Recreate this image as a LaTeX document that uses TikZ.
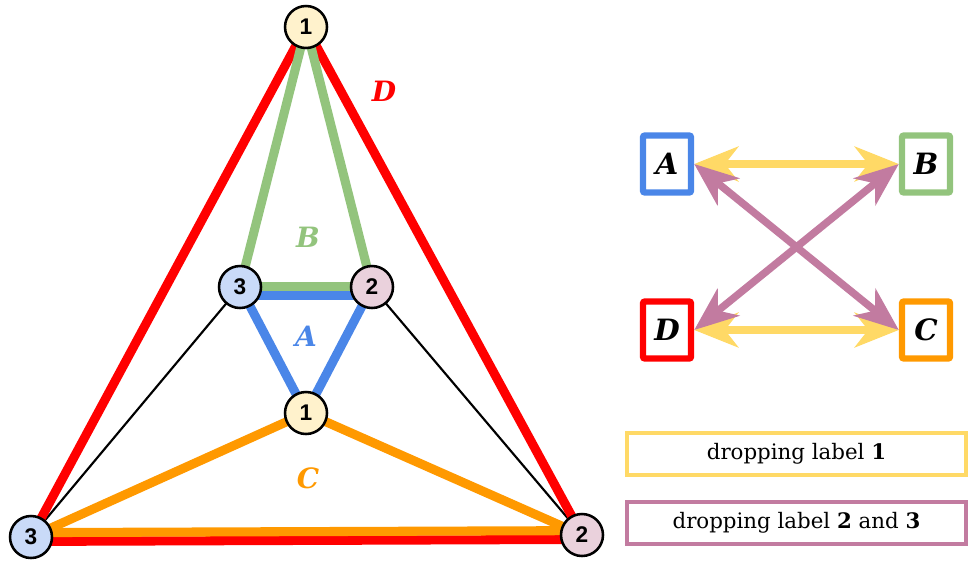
\documentclass[tikz,border=0pt]{standalone}
\usepackage{fontspec}
\setmainfont{DejaVu Serif}
\newfontfamily\numfont{Liberation Sans}
\usepackage{tikz}
\usetikzlibrary{arrows.meta,backgrounds}
\definecolor{cRed}{HTML}{FF0000}
\definecolor{cGreen}{HTML}{93C47D}
\definecolor{cBlue}{HTML}{4A86E8}
\definecolor{cOrange}{HTML}{FF9900}
\definecolor{cYellow}{HTML}{FFD966}
\definecolor{cPurple}{HTML}{C27BA0}
\definecolor{fOne}{HTML}{FFF2CC}
\definecolor{fTwo}{HTML}{EAD1DC}
\definecolor{fThree}{HTML}{C9DAF8}
\tikzset{
  vtx/.style={circle, draw, line width=1.9pt, minimum size=31.5pt, inner sep=0pt,
              font=\numfont\bfseries\fontsize{17}{17}\selectfont},
  edge/.style={line width=6.8pt},
  wire/.style={line width=1.6pt},
  face/.style={font=\bfseries\itshape\fontsize{21}{21}\selectfont},
  tag/.style={draw, line width=4.8pt, rounded corners=1.5pt, minimum width=36pt,
              minimum height=42.75pt, inner sep=0pt,
              font=\bfseries\itshape\fontsize{22}{22}\selectfont},
  swap/.style={{Stealth[length=33pt,width=26pt,inset=10pt]}-{Stealth[length=33pt,width=26pt,inset=10pt]},
               line width=5.6pt},
  legend/.style={draw, line width=3pt, minimum width=254pt, minimum height=31.5pt,
                 inner sep=0pt, font=\fontsize{16}{16}\selectfont},
}
\begin{document}
\begin{tikzpicture}[x=0.75pt, y=-0.75pt]
  \useasboundingbox (0,0) rectangle (969,562);
  % vertices
  \node[vtx, fill=fOne]   (t1) at (306,27)  {1};
  \node[vtx, fill=fThree] (i3) at (240,287) {3};
  \node[vtx, fill=fTwo]   (i2) at (372,287) {2};
  \node[vtx, fill=fOne]   (i1) at (306,413) {1};
  \node[vtx, fill=fThree] (o3) at (31,537)  {3};
  \node[vtx, fill=fTwo]   (o2) at (582,535) {2};
  % faces (shared edges drawn twice, side by side)
  \begin{scope}[on background layer]
    \draw[wire] (i3.center) -- (o3.center);
    \draw[wire] (i2.center) -- (o2.center);
    \draw[edge, cRed] (o3.center) -- (t1.center) -- (o2.center);
    \draw[edge, cRed, transform canvas={yshift=-3.3pt}] (o3.center) -- (o2.center);
    \draw[edge, cGreen] (i3.center) -- (t1.center) -- (i2.center);
    \draw[edge, cGreen] (i3.center) -- (i2.center);
    \draw[edge, cBlue] (i3.center) -- (i1.center) -- (i2.center);
    \draw[edge, cBlue, transform canvas={yshift=-6.3pt}] (i3.center) -- (i2.center);
    \draw[edge, cOrange] (o3.center) -- (i1.center) -- (o2.center);
    \draw[edge, cOrange, transform canvas={yshift=3.3pt}] (o3.center) -- (o2.center);
  \end{scope}
  \node[face, text=cRed]    (fD) at (384,91)  {D};
  \node[face, text=cGreen]  (fB) at (308,237) {B};
  \node[face, text=cBlue]   (fA) at (306,336) {A};
  \node[face, text=cOrange] (fC) at (308,478) {C};
  % swaps between faces
  \node[tag, draw=cBlue]   (A) at (667,164) {A};
  \node[tag, draw=cGreen]  (B) at (926,164) {B};
  \node[tag, draw=cRed]    (D) at (667,330) {D};
  \node[tag, draw=cOrange] (C) at (926,330) {C};
  \draw[swap, cYellow] (A) -- (B);
  \draw[swap, cYellow] (D) -- (C);
  \draw[swap, cPurple] (A.east) -- (C.west);
  \draw[swap, cPurple] (B.west) -- (D.east);
  % legend
  \node[legend, draw=cYellow] (l1) at (796.5,454)   {dropping label \textbf{1}};
  \node[legend, draw=cPurple] (l2) at (796.5,522.5) {dropping label \textbf{2} and \textbf{3}};
\end{tikzpicture}
\end{document}
